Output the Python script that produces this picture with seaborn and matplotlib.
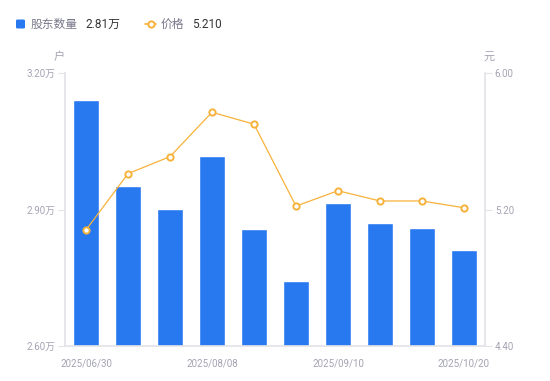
import matplotlib
matplotlib.use("Agg")
import matplotlib.pyplot as plt
import seaborn as sns
import pandas as pd
from matplotlib.lines import Line2D
from matplotlib.patches import FancyBboxPatch

dates = ["2025/06/30", "2025/07/10", "2025/07/31", "2025/08/08", "2025/08/20",
         "2025/08/29", "2025/09/10", "2025/09/19", "2025/09/30", "2025/10/20"]
holders = [3.14, 2.952, 2.901, 3.018, 2.857, 2.743, 2.914, 2.870, 2.859, 2.81]  # 万户
price = [5.08, 5.41, 5.51, 5.77, 5.70, 5.22, 5.31, 5.25, 5.25, 5.21]
left_ticks = [2.60, 2.90, 3.20]
right_ticks = [4.40, 5.20, 6.00]
shown_dates = ["2025/06/30", "2025/08/08", "2025/09/10", "2025/10/20"]

BLUE = "#2878F0"
ORANGE = "#F7B23B"
GRAY = "#A3A3B3"
AXIS = "#E3E3E8"

sns.set_theme(style="white")
plt.rcParams["font.family"] = ["Roboto", "Noto Sans CJK SC", "DejaVu Sans"]

fig = plt.figure(figsize=(5.5, 3.81), dpi=100)
ax = fig.add_axes([65/550, 1-346/381, 420/550, 273/381])

df = pd.DataFrame({"date": dates, "holders": holders, "price": price})
sns.barplot(data=df, x="date", y="holders", color=BLUE, saturation=1, width=0.6, ax=ax)
ax.set_ylim(2.60, 3.20)
ax.set_xlim(-0.5, 9.5)

ax2 = ax.twinx()
df["pos"] = range(len(dates))
sns.lineplot(data=df, x="pos", y="price", ax=ax2, color=ORANGE, linewidth=0.9,
             marker="o", markersize=4.5, markerfacecolor="white",
             markeredgecolor=ORANGE, markeredgewidth=1.4)
ax2.set_ylim(4.40, 6.00)
ax2.set_xlim(-0.5, 9.5)

for a in (ax, ax2):
    for s in a.spines.values():
        s.set_visible(False)
    a.set_xlabel("")
    a.set_ylabel("")
    a.grid(False)

ax.spines["left"].set_visible(True)
ax.spines["left"].set_color(AXIS)
ax.spines["bottom"].set_visible(True)
ax.spines["bottom"].set_color(AXIS)
ax2.spines["right"].set_visible(True)
ax2.spines["right"].set_color(AXIS)

ax.set_yticks(left_ticks)
ax.set_yticklabels([f"{v:.2f}万" for v in left_ticks])
ax2.set_yticks(right_ticks)
ax2.set_yticklabels([f"{v:.2f}" for v in right_ticks])
ax.tick_params(axis="y", left=True, length=5, width=0.8, color=AXIS, labelcolor=GRAY,
               labelsize=7, pad=2)
ax2.tick_params(axis="y", right=True, length=5, width=0.8, color=AXIS, labelcolor=GRAY,
                labelsize=7, pad=2)

pos = [dates.index(d) for d in shown_dates]
ax.set_xticks(pos)
ax.set_xticklabels(shown_dates)
ax.tick_params(axis="x", bottom=False, labelcolor=GRAY, labelsize=7, pad=3)

# unit labels
fig.text(59/550, 1-57/381, "户", color=GRAY, fontsize=8, ha="center", va="center")
fig.text(489/550, 1-57/381, "元", color=GRAY, fontsize=8, ha="center", va="center")

# legend
fig.patches.append(FancyBboxPatch((16/550, 1-28.5/381), 9/550, 9/381,
                                  boxstyle="round,pad=0,rounding_size=0.003",
                                  transform=fig.transFigure,
                                  facecolor=BLUE, edgecolor="none"))
fig.text(31/550, 1-24/381, "股东数量", color="#77778A", fontsize=8.5, va="center")
fig.text(85/550, 1-24/381, "2.81万", color="#333333", fontsize=8.5, va="center")
fig.lines.append(Line2D([145/550, 156/550], [1-24/381, 1-24/381], transform=fig.transFigure,
                        color=ORANGE, linewidth=1.2))
fig.lines.append(Line2D([150.5/550], [1-24/381], transform=fig.transFigure,
                        color=ORANGE, marker="o", markersize=4.5, markerfacecolor="white",
                        markeredgewidth=1.4, linestyle="none"))
fig.text(161/550, 1-24/381, "价格", color="#77778A", fontsize=8.5, va="center")
fig.text(192/550, 1-24/381, "5.210", color="#333333", fontsize=8.5, va="center")

fig.savefig("out.png", dpi=100)
